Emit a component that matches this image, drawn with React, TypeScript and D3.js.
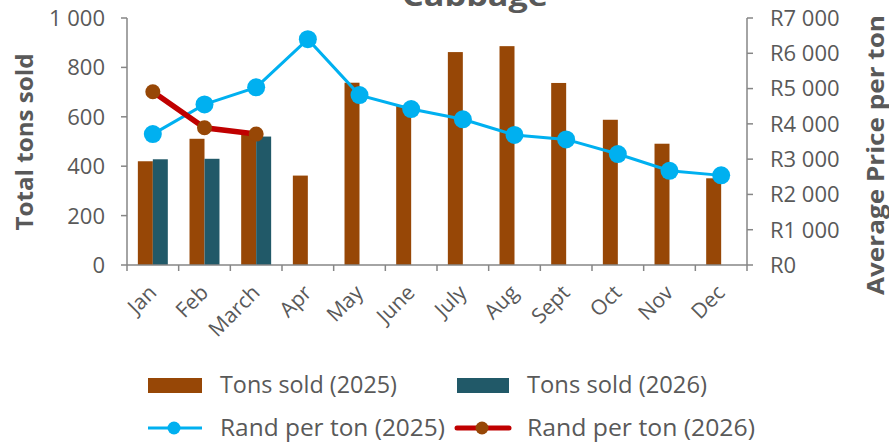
import React from 'react';
import * as d3 from 'd3';

// chart data
const months = ['Jan', 'Feb', 'March', 'Apr', 'May', 'June', 'July', 'Aug', 'Sept', 'Oct', 'Nov', 'Dec'];
const tons2025 = [420, 511, 530, 362, 738, 645, 862, 886, 737, 588, 491, 351];
const tons2026 = [428, 430, 520, null, null, null, null, null, null, null, null, null];
const rand2025 = [3710, 4550, 5035, 6400, 4815, 4420, 4130, 3685, 3560, 3145, 2670, 2540];
const rand2026 = [4910, 3890, 3710];
const tonTicks = [0, 200, 400, 600, 800, 1000];
const randTicks = [0, 1000, 2000, 3000, 4000, 5000, 6000, 7000];

const W = 889;
const H = 443;
const margin = { top: 18, right: 142, bottom: 178, left: 127 };
const FONT = '"Open Sans", "DejaVu Sans", sans-serif';
const GREY = '#595959';
const AXIS = '#868686';
const BROWN = '#974706';
const TEAL = '#215968';
const BLUE = '#00B0F0';
const RED = '#C00000';

const fmt = (v: number) => d3.format(',')(v).replace(/,/g, ' ');

export default function App() {
  const x0 = margin.left;
  const x1 = W - margin.right;
  const y0 = H - margin.bottom;
  const y1 = margin.top;

  const x = d3.scaleBand().domain(months).range([x0, x1]).paddingInner(0).paddingOuter(0);
  const yTons = d3.scaleLinear().domain([0, 1000]).range([y0, y1]);
  const yRand = d3.scaleLinear().domain([0, 7000]).range([y0, y1]);

  const barW = x.bandwidth() * 0.29;
  const cx = (m: string) => (x(m) as number) + x.bandwidth() / 2;

  const line = d3
    .line<number>()
    .x((_, i) => cx(months[i]))
    .y((d) => yRand(d));

  return (
    <svg width={W} height={H} style={{ display: 'block', position: 'absolute', left: 0, top: 0 }} fontFamily={FONT}>
      <text x={475} y={6} textAnchor="middle" fontSize={28} fontWeight="bold" fill={GREY} textLength={146} lengthAdjust="spacingAndGlyphs">
        Cabbage
      </text>

      {/* bars */}
      {months.map((m, i) => (
        <g key={m}>
          <rect x={cx(m) - barW} y={yTons(tons2025[i])} width={barW} height={y0 - yTons(tons2025[i])} fill={BROWN} />
          {tons2026[i] != null && (
            <rect x={cx(m)} y={yTons(tons2026[i] as number)} width={barW} height={y0 - yTons(tons2026[i] as number)} fill={TEAL} />
          )}
        </g>
      ))}

      {/* axes */}
      <line x1={x0} x2={x0} y1={y1} y2={y0} stroke={AXIS} strokeWidth={1.5} />
      <line x1={x1} x2={x1} y1={y1} y2={y0} stroke={AXIS} strokeWidth={1.5} />
      <line x1={x0} x2={x1} y1={y0} y2={y0} stroke={AXIS} strokeWidth={1.5} />
      {tonTicks.map((t) => (
        <g key={'l' + t}>
          <line x1={x0 - 6} x2={x0} y1={yTons(t)} y2={yTons(t)} stroke={AXIS} strokeWidth={1.5} />
          <text x={x0 - 22} y={yTons(t)} dy="0.36em" textAnchor="end" fontSize={22} fill={GREY}>
            {fmt(t)}
          </text>
        </g>
      ))}
      {randTicks.map((t) => (
        <g key={'r' + t}>
          <line x1={x1} x2={x1 + 6} y1={yRand(t)} y2={yRand(t)} stroke={AXIS} strokeWidth={1.5} />
          <text x={x1 + 23} y={yRand(t)} dy="0.36em" textAnchor="start" fontSize={22} fill={GREY}>
            {'R' + fmt(t)}
          </text>
        </g>
      ))}
      {months.map((m) => (
        <line key={'t' + m} x1={x(m) as number} x2={x(m) as number} y1={y0} y2={y0 + 6} stroke={AXIS} strokeWidth={1.5} />
      ))}
      <line x1={x1} x2={x1} y1={y0} y2={y0 + 6} stroke={AXIS} strokeWidth={1.5} />
      {months.map((m) => (
        <text
          key={'x' + m}
          transform={`translate(${cx(m) + 5},${y0 + 29}) rotate(-45)`}
          textAnchor="end"
          fontSize={21}
          fill={GREY}
        >
          {m}
        </text>
      ))}

      {/* axis titles */}
      <text transform={`translate(33,142) rotate(-90)`} textAnchor="middle" fontSize={24} fontWeight="bold" fill={GREY} textLength={177} lengthAdjust="spacingAndGlyphs">
        Total tons sold
      </text>
      <text transform={`translate(884,155) rotate(-90)`} textAnchor="middle" fontSize={24} fontWeight="bold" fill={GREY} textLength={280} lengthAdjust="spacingAndGlyphs">
        Average Price per ton
      </text>

      {/* lines */}
      <path d={line(rand2025) as string} fill="none" stroke={BLUE} strokeWidth={3} />
      {rand2025.map((v, i) => (
        <circle key={'b' + i} cx={cx(months[i])} cy={yRand(v)} r={9} fill={BLUE} />
      ))}
      <path d={line(rand2026) as string} fill="none" stroke={RED} strokeWidth={5.5} />
      {rand2026.map((v, i) => (
        <circle key={'c' + i} cx={cx(months[i])} cy={yRand(v)} r={7.5} fill={BROWN} />
      ))}

      {/* legend */}
      <g fontSize={23} fill={GREY}>
        <rect x={148} y={378} width={54} height={15} fill={BROWN} />
        <text x={220} y={393} textLength={177} lengthAdjust="spacingAndGlyphs">Tons sold (2025)</text>
        <rect x={457} y={378} width={52} height={15} fill={TEAL} />
        <text x={527} y={393} textLength={180} lengthAdjust="spacingAndGlyphs">Tons sold (2026)</text>
        <line x1={148} x2={202} y1={428} y2={428} stroke={BLUE} strokeWidth={3} />
        <circle cx={174} cy={428} r={6.5} fill={BLUE} />
        <text x={220} y={436} textLength={225} lengthAdjust="spacingAndGlyphs">Rand per ton (2025)</text>
        <line x1={457} x2={509} y1={428} y2={428} stroke={RED} strokeWidth={5} strokeLinecap="round" />
        <circle cx={482} cy={428} r={6.5} fill={BROWN} />
        <text x={527} y={436} textLength={228} lengthAdjust="spacingAndGlyphs">Rand per ton (2026)</text>
      </g>
    </svg>
  );
}
